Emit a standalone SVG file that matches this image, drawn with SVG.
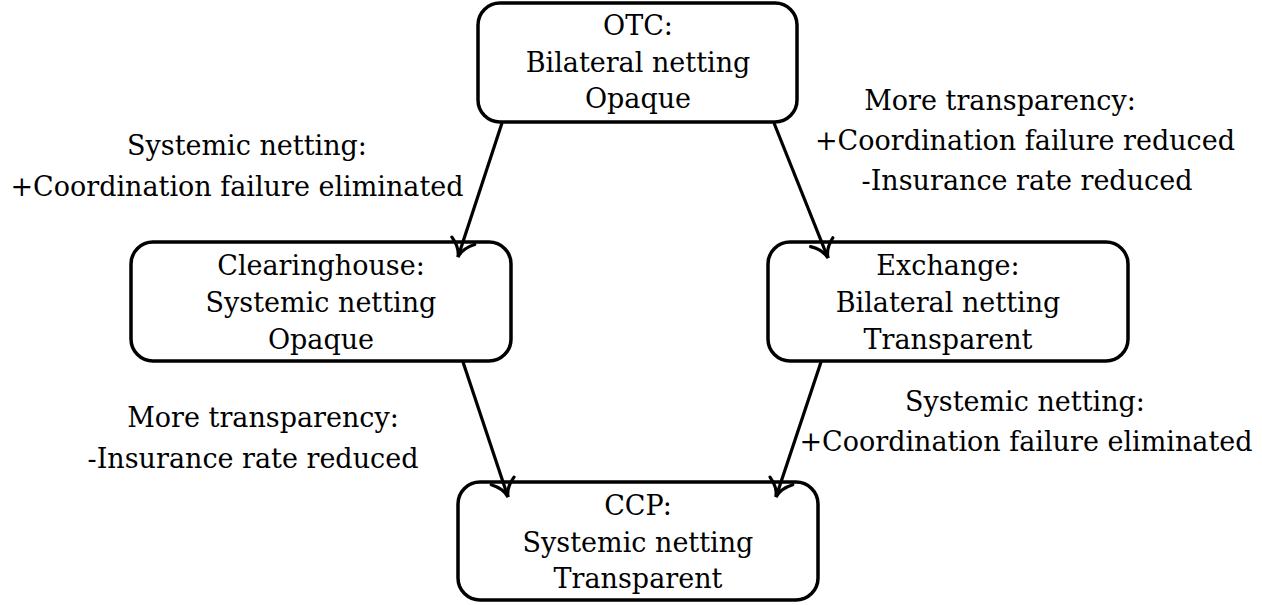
<svg xmlns="http://www.w3.org/2000/svg" width="1262" height="605" viewBox="0 0 1262 605">
<style>
text{font-family:"DejaVu Serif",serif;font-size:27px;fill:#000;text-anchor:middle}
.box{fill:#fff;stroke:#000;stroke-width:3.5}
.edge{fill:none;stroke:#000;stroke-width:3.2;marker-end:url(#to)}
</style>
<defs>
<marker id="to" markerUnits="userSpaceOnUse" orient="auto" markerWidth="24" markerHeight="30" refX="20" refY="15">
<path d="M3,3 C8,10 14,14 20,15 C14,16 8,20 3,27" fill="none" stroke="#000" stroke-width="3.2" stroke-linecap="round"/>
</marker>
</defs>
<rect width="1262" height="605" fill="#fff"/>
<g id="otc">
<rect class="box" x="478" y="3" width="319" height="119" rx="22"/>
<text x="638" y="35">OTC:</text>
<text x="638" y="72">Bilateral netting</text>
<text x="638" y="108">Opaque</text>
</g>
<g id="clearinghouse">
<rect class="box" x="131" y="242" width="380" height="119" rx="22"/>
<text x="321" y="275">Clearinghouse:</text>
<text x="321" y="312">Systemic netting</text>
<text x="321" y="349">Opaque</text>
</g>
<g id="exchange">
<rect class="box" x="768" y="242" width="360" height="119" rx="22"/>
<text x="948" y="275">Exchange:</text>
<text x="948" y="312">Bilateral netting</text>
<text x="948" y="349">Transparent</text>
</g>
<g id="ccp">
<rect class="box" x="458" y="482" width="360" height="118" rx="22"/>
<text x="638" y="515">CCP:</text>
<text x="638" y="552">Systemic netting</text>
<text x="638" y="588">Transparent</text>
</g>
<g id="labels">
<text x="247" y="155">Systemic netting:</text>
<text x="237" y="196">+Coordination failure eliminated</text>
<text x="1000" y="110">More transparency:</text>
<text x="1025" y="150">+Coordination failure reduced</text>
<text x="1027" y="190">-Insurance rate reduced</text>
<text x="263" y="427">More transparency:</text>
<text x="253" y="468">-Insurance rate reduced</text>
<text x="1025" y="411">Systemic netting:</text>
<text x="1026" y="451">+Coordination failure eliminated</text>
</g>
<g id="connectors">
<line class="edge" x1="502" y1="123" x2="458" y2="257"/>
<line class="edge" x1="774" y1="123" x2="828" y2="258"/>
<line class="edge" x1="463" y1="362" x2="508" y2="497"/>
<line class="edge" x1="821" y1="362" x2="776" y2="497"/>
</g>
</svg>
